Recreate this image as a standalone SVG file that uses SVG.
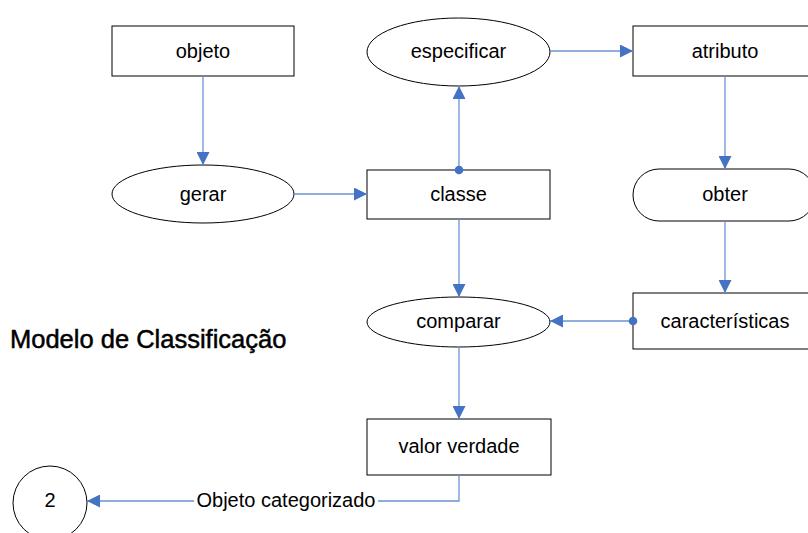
<svg xmlns="http://www.w3.org/2000/svg" width="808" height="533" viewBox="0 0 808 533">
  <style>
    .box { fill: #ffffff; stroke: #000000; stroke-width: 1; }
    .lbl { font-family: "Liberation Sans", Arial, sans-serif; font-size: 20px; fill: #000000; text-anchor: middle; }
    .edge { fill: none; stroke: #6a93d4; stroke-width: 1.3; }
    .dot { fill: #4472c4; }
  </style>
  <defs>
    <marker id="arrow" viewBox="0 0 13 13" refX="13" refY="6.5" markerWidth="13" markerHeight="13" markerUnits="userSpaceOnUse" orient="auto">
      <path d="M0,0 L13,6.5 L0,13 Z" fill="#4472c4"/>
    </marker>
  </defs>
  <rect width="808" height="533" fill="#ffffff"/>

  <!-- nodes -->
  <g id="objeto">
    <rect class="box" x="112" y="26" width="182" height="50"/>
    <text class="lbl" x="203" y="58">objeto</text>
  </g>
  <g id="especificar">
    <ellipse class="box" cx="458.5" cy="52" rx="91.5" ry="34"/>
    <text class="lbl" x="458.5" y="58">especificar</text>
  </g>
  <g id="atributo">
    <rect class="box" x="633" y="26" width="182" height="50"/>
    <text class="lbl" x="725" y="58">atributo</text>
  </g>
  <g id="gerar">
    <ellipse class="box" cx="203" cy="194" rx="91" ry="29"/>
    <text class="lbl" x="203" y="201">gerar</text>
  </g>
  <g id="classe">
    <rect class="box" x="367" y="170" width="183" height="49"/>
    <text class="lbl" x="458.5" y="201">classe</text>
  </g>
  <g id="obter">
    <rect class="box" x="633" y="169" width="182" height="52" rx="26" ry="26"/>
    <text class="lbl" x="725" y="201">obter</text>
  </g>
  <g id="comparar">
    <ellipse class="box" cx="458.5" cy="322" rx="91.5" ry="25"/>
    <text class="lbl" x="458.5" y="328">comparar</text>
  </g>
  <g id="caracteristicas">
    <rect class="box" x="633" y="293" width="182" height="56"/>
    <text class="lbl" x="725" y="328">características</text>
  </g>
  <g id="valor-verdade">
    <rect class="box" x="367" y="419" width="184" height="56"/>
    <text class="lbl" x="459" y="453">valor verdade</text>
  </g>
  <g id="conector-2">
    <circle class="box" cx="50" cy="503" r="37"/>
    <text class="lbl" x="50" y="507">2</text>
  </g>

  <!-- connectors (drawn over the nodes so the start dots sit on the borders) -->
  <g id="connectors">
    <path class="edge" d="M203,76 V165" marker-end="url(#arrow)"/>
    <path class="edge" d="M550,51 H633" marker-end="url(#arrow)"/>
    <path class="edge" d="M459,170 V86" marker-end="url(#arrow)"/>
    <circle class="dot" cx="459" cy="170" r="4.3"/>
    <path class="edge" d="M294,194 H367" marker-end="url(#arrow)"/>
    <path class="edge" d="M725,76 V169" marker-end="url(#arrow)"/>
    <path class="edge" d="M459,219 V297" marker-end="url(#arrow)"/>
    <path class="edge" d="M725,221 V293" marker-end="url(#arrow)"/>
    <path class="edge" d="M633,321 H550" marker-end="url(#arrow)"/>
    <circle class="dot" cx="633" cy="321" r="4.3"/>
    <path class="edge" d="M459,347 V419" marker-end="url(#arrow)"/>
    <path class="edge" d="M459,475 V501 H87" marker-end="url(#arrow)"/>
    <rect x="194" y="489" width="184" height="22" fill="#ffffff"/>
    <text class="lbl" x="286" y="507">Objeto categorizado</text>
  </g>

  <text id="titulo" x="10" y="348" font-family="Liberation Sans, Arial, sans-serif" font-size="25.5" fill="#000000" stroke="#000000" stroke-width="0.5">Modelo de Classificação</text>
</svg>
